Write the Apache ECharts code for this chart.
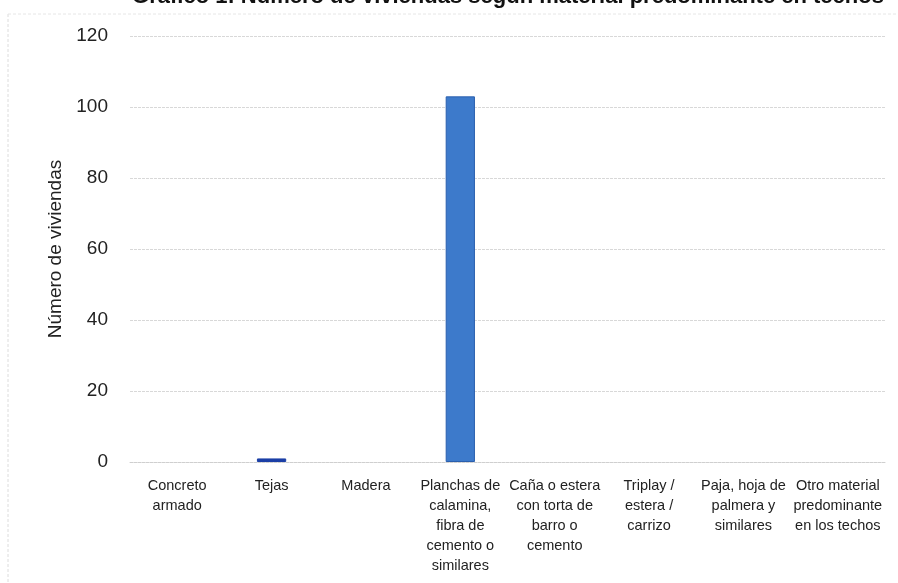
<!DOCTYPE html>
<html><head><meta charset="utf-8">
<script src="https://cdn.jsdelivr.net/npm/echarts@6/dist/echarts.min.js"></script>
<style>html,body{margin:0;padding:0;background:#fff}#c{width:898px;height:583px}</style>
</head><body><div id="c"></div>
<script>
const titleText = 'Gráfico 1: Número de viviendas según material predominante en techos';
const yAxisName = 'Número de viviendas';
const categories = [
  'Concreto\narmado',
  'Tejas',
  'Madera',
  'Planchas de\ncalamina,\nfibra de\ncemento o\nsimilares',
  'Caña o estera\ncon torta de\nbarro o\ncemento',
  'Triplay /\nestera /\ncarrizo',
  'Paja, hoja de\npalmera y\nsimilares',
  'Otro material\npredominante\nen los techos'
];
const values = [0, 1, 0, 103, 0, 0, 0, 0];
const yTicks = [0, 20, 40, 60, 80, 100, 120];

const barColors = ['#3d7acb', '#1b3fa6', '#3d7acb', '#3d7acb', '#3d7acb', '#3d7acb', '#3d7acb', '#3d7acb'];
const borderColors = ['#2a5fae', '#1b3fa6', '#2a5fae', '#2a5fae', '#2a5fae', '#2a5fae', '#2a5fae', '#2a5fae'];
const font = '"Liberation Sans", Arial, sans-serif';

const chart = echarts.init(document.getElementById('c'), null, {renderer: 'canvas'});
chart.setOption({
  animation: false,
  backgroundColor: '#fff',
  title: {
    text: titleText,
    left: 508, textAlign: 'center',
    top: -16, padding: 0,
    textStyle: {fontFamily: font, fontWeight: 'bold', fontSize: 22, lineHeight: 26, color: '#111'}
  },
  graphic: [
    {type: 'line', shape: {x1: 8, y1: 14, x2: 8, y2: 583}, style: {stroke: '#dcdcdc', lineWidth: 1, lineDash: [3, 2]}},
    {type: 'line', shape: {x1: 8, y1: 14, x2: 898, y2: 14}, style: {stroke: '#e6e6e6', lineWidth: 1, lineDash: [3, 2]}}
  ],
  grid: {left: 130, right: 13, top: 36, bottom: 121, containLabel: false},
  xAxis: {
    type: 'category',
    data: categories,
    axisLine: {show: true, lineStyle: {color: '#cfcfcf', type: [3, 1]}},
    axisTick: {show: false},
    axisLabel: {
      interval: 0, margin: 14, lineHeight: 20,
      fontFamily: font, fontSize: 14.5, color: '#222', align: 'center'
    }
  },
  yAxis: {
    type: 'value',
    min: 0, max: 120, interval: 20,
    name: yAxisName,
    nameLocation: 'middle', nameGap: 64, nameRotate: 90,
    nameTextStyle: {fontFamily: font, fontSize: 19, color: '#222'},
    axisLine: {show: false},
    axisTick: {show: false},
    axisLabel: {
      margin: 22, fontFamily: font, fontSize: 19, color: '#222',
      formatter: v => yTicks.includes(v) ? String(v) : ''
    },
    splitLine: {lineStyle: {color: '#d8d8d8', type: [3, 1], width: 1}}
  },
  series: [{
    type: 'bar',
    data: values.map((v, i) => ({
      value: v,
      itemStyle: {color: barColors[i], borderColor: borderColors[i], borderWidth: v > 0 ? 1 : 0, opacity: v > 0 ? 1 : 0}
    })),
    barWidth: '31%'
  }]
});
</script>
</body></html>
